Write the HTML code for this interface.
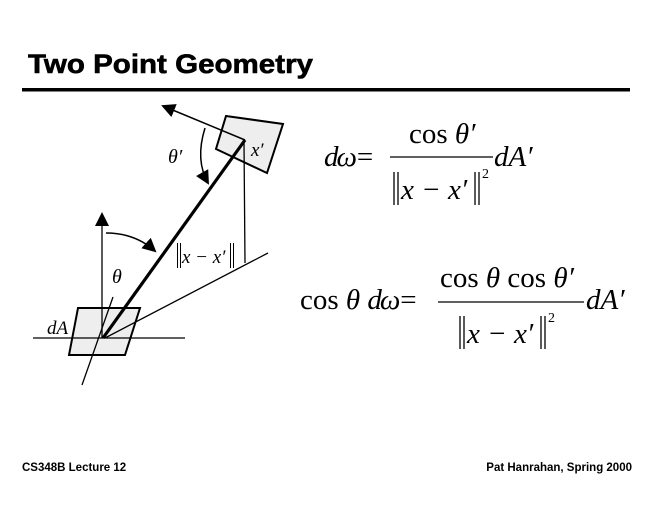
<!DOCTYPE html>
<html><head><style>
html,body{margin:0;padding:0;background:#fff}
svg{display:block}
.t{font-family:"Liberation Serif",serif;font-style:italic}
.r{font-family:"Liberation Serif",serif}
</style></head><body>
<svg width="660" height="510" viewBox="0 0 660 510" xmlns="http://www.w3.org/2000/svg">
<text x="28" y="73" font-family="Liberation Sans,sans-serif" font-weight="bold" font-size="27" stroke="#000" stroke-width="0.6" textLength="285" lengthAdjust="spacingAndGlyphs">Two Point Geometry</text>
<rect x="22" y="88" width="608" height="3.5" fill="#000"/>
<defs><marker id="b" markerWidth="14" markerHeight="14" refX="12" refY="7" orient="auto" markerUnits="userSpaceOnUse"><path d="M0,0 L14,7 L0,14 z" fill="#000"/></marker></defs>
<polygon points="78,308 140,308 125,355 69,355" fill="#eee" stroke="#000" stroke-width="2"/>
<line x1="33" y1="338" x2="185" y2="338" stroke="#000" stroke-width="1.3"/>
<line x1="82" y1="385" x2="113" y2="297" stroke="#000" stroke-width="1.3"/>
<line x1="102" y1="338" x2="102" y2="214" stroke="#000" stroke-width="1.3" marker-end="url(#b)"/>
<polygon points="226,116 283,124 267,173 216,149" fill="#eee" stroke="#000" stroke-width="2"/>
<line x1="245" y1="140" x2="163" y2="106" stroke="#000" stroke-width="1.5" marker-end="url(#b)"/>
<line x1="244" y1="142" x2="245" y2="263" stroke="#000" stroke-width="1.3"/>
<line x1="105" y1="338" x2="268" y2="253" stroke="#000" stroke-width="1.3"/>
<line x1="103" y1="338" x2="245" y2="140" stroke="#000" stroke-width="3.2"/>
<path d="M106,233 Q135,233 155,251" fill="none" stroke="#000" stroke-width="1.5" marker-end="url(#b)"/>
<path d="M205,128 Q195,160 208,183" fill="none" stroke="#000" stroke-width="1.5" marker-end="url(#b)"/>
<text x="168" y="163" class="t" font-size="20">θ′</text>
<text x="251" y="156" class="t" font-size="19">x′</text>
<text x="112" y="283" class="t" font-size="20">θ</text>
<text x="47" y="334" class="t" font-size="19">dA</text>
<g stroke="#000" stroke-width="1"><line x1="177.5" y1="243" x2="177.5" y2="268"/><line x1="180.5" y1="243" x2="180.5" y2="268"/><line x1="230.5" y1="243" x2="230.5" y2="268"/><line x1="233.5" y1="243" x2="233.5" y2="268"/></g>
<text x="182" y="263" class="t" font-size="19">x − x′</text>
<!-- equation 1 -->
<text x="324" y="166" class="t" font-size="29" letter-spacing="-2">dω=</text>
<text x="409" y="143" font-size="29"><tspan class="r">cos</tspan><tspan class="t"> θ′</tspan></text>
<line x1="390" y1="157" x2="493" y2="157" stroke="#000" stroke-width="1.3"/>
<g stroke="#000" stroke-width="1.3"><line x1="394" y1="172" x2="394" y2="205"/><line x1="398" y1="172" x2="398" y2="205"/><line x1="475" y1="172" x2="475" y2="205"/><line x1="479" y1="172" x2="479" y2="205"/></g>
<text x="401" y="199" class="t" font-size="29">x − x′</text>
<text x="482" y="178" class="r" font-size="14">2</text>
<text x="494" y="166" class="t" font-size="29">dA′</text>
<!-- equation 2 -->
<text x="300" y="309" font-size="29"><tspan class="r">cos</tspan><tspan class="t"> θ </tspan><tspan class="t" letter-spacing="-2">dω=</tspan></text>
<text x="440" y="287" font-size="29"><tspan class="r">cos</tspan><tspan class="t"> θ </tspan><tspan class="r">cos</tspan><tspan class="t"> θ′</tspan></text>
<line x1="438" y1="302" x2="584" y2="302" stroke="#000" stroke-width="1.3"/>
<g stroke="#000" stroke-width="1.3"><line x1="460" y1="316" x2="460" y2="349"/><line x1="464" y1="316" x2="464" y2="349"/><line x1="541" y1="316" x2="541" y2="349"/><line x1="545" y1="316" x2="545" y2="349"/></g>
<text x="467" y="343" class="t" font-size="29">x − x′</text>
<text x="548" y="322" class="r" font-size="14">2</text>
<text x="586" y="309" class="t" font-size="29">dA′</text>
<text x="22" y="471" font-family="Liberation Sans,sans-serif" font-weight="bold" font-size="11.5">CS348B Lecture 12</text>
<text x="632" y="471" text-anchor="end" font-family="Liberation Sans,sans-serif" font-weight="bold" font-size="11.5">Pat Hanrahan, Spring 2000</text>
</svg>
</body></html>
